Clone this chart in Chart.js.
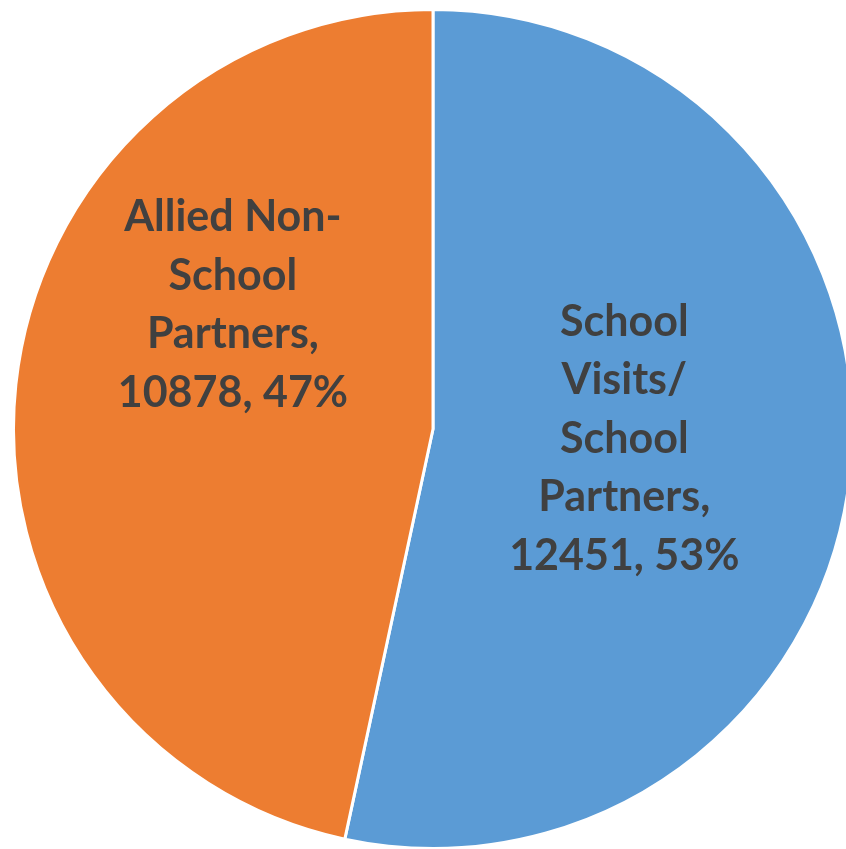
<!DOCTYPE html>
<html>
<head>
<meta charset="utf-8">
<script src="https://cdn.jsdelivr.net/npm/chart.js@4/dist/chart.umd.min.js"></script>
<style>
  html, body { margin: 0; padding: 0; background: #fff; overflow: hidden; }
  #wrap { position: absolute; left: 12px; top: 8px; width: 842px; height: 842px; }
</style>
</head>
<body>
<div id="wrap"><canvas id="pie"></canvas></div>
<script>
const categories = ['School Visits/ School Partners', 'Allied Non-School Partners'];
const values = [12451, 10878];
const percents = [53, 47];
const labelLines = [
  ['School', 'Visits/', 'School', 'Partners,', '12451, 53%'],
  ['Allied Non-', 'School', 'Partners,', '10878, 47%']
];
const colors = ['#5B9BD5', '#ED7D31'];

// label block centres, as fractions of the radius from the pie centre
const labelOffsets = [[0.456, 0.024], [-0.477, -0.295]];

const sliceLabels = {
  id: 'sliceLabels',
  afterDatasetsDraw(chart) {
    const c = chart.ctx;
    const meta = chart.getDatasetMeta(0);
    c.save();
    c.font = "bold 43px Lato, 'Open Sans', sans-serif";
    c.fillStyle = '#404040';
    c.textAlign = 'center';
    c.textBaseline = 'middle';
    meta.data.forEach((arc, i) => {
      const r = arc.outerRadius;
      const cx = arc.x + labelOffsets[i][0] * r;
      const cy = arc.y + labelOffsets[i][1] * r;
      const lines = labelLines[i];
      const lh = 58.5;
      lines.forEach((t, k) => {
        c.fillText(t, cx, cy + (k - (lines.length - 1) / 2) * lh);
      });
    });
    c.restore();
  }
};

new Chart(document.getElementById('pie'), {
  type: 'pie',
  data: {
    labels: categories,
    datasets: [{
      data: values,
      backgroundColor: colors,
      borderColor: '#fff',
      borderWidth: 3
    }]
  },
  options: {
    responsive: true, maintainAspectRatio: false,
    animation: false,
    layout: { padding: 0 },
    plugins: { legend: { display: false }, tooltip: { enabled: false } }
  },
  plugins: [sliceLabels]
});
</script>
</body>
</html>
